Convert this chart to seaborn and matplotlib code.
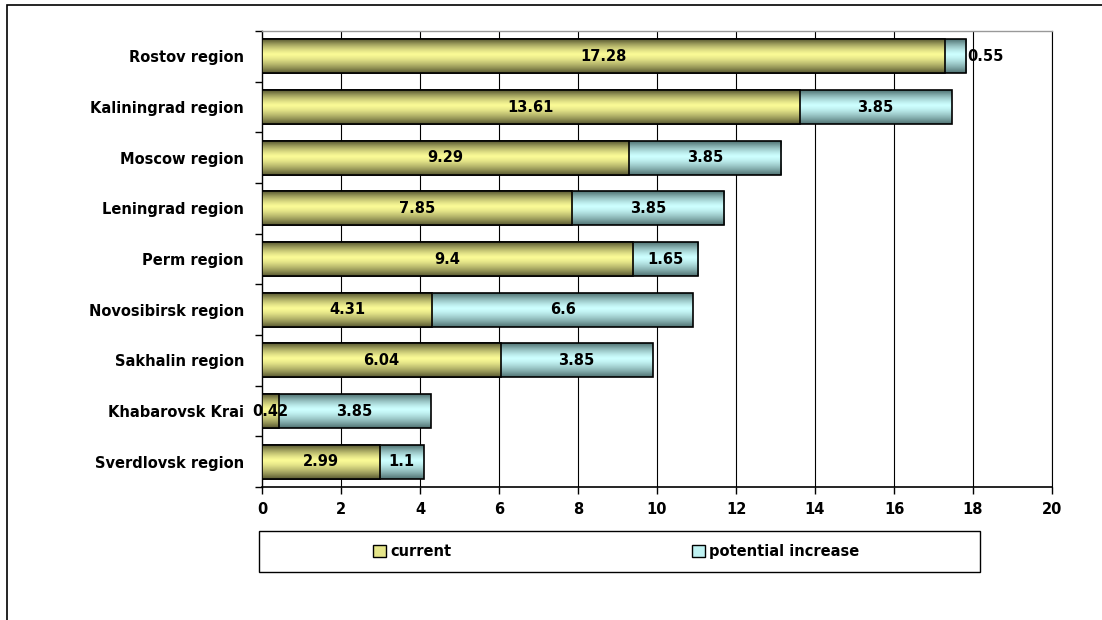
import numpy as np
import pandas as pd
import matplotlib
matplotlib.use("Agg")
import matplotlib.pyplot as plt
import seaborn as sns
from matplotlib.patches import Patch, Rectangle
from matplotlib.ticker import FixedLocator

regions = ["Rostov region", "Kaliningrad region", "Moscow region", "Leningrad region",
           "Perm region", "Novosibirsk region", "Sakhalin region", "Khabarovsk Krai",
           "Sverdlovsk region"]
current = [17.28, 13.61, 9.29, 7.85, 9.4, 4.31, 6.04, 0.42, 2.99]
potential = [0.55, 3.85, 3.85, 3.85, 1.65, 6.6, 3.85, 3.85, 1.1]
x_ticks = [0, 2, 4, 6, 8, 10, 12, 14, 16, 18, 20]
series_names = ["current", "potential increase"]

df = pd.DataFrame({"region": regions, "current": current, "potential": potential})
df["total"] = df["current"] + df["potential"]

sns.set_theme(style="white")
plt.rcParams["font.family"] = ["DejaVu Sans"]
plt.rcParams["font.weight"] = "bold"
plt.rcParams["text.color"] = "black"

W, H = 1102, 620
fig = plt.figure(figsize=(W / 100, H / 100), dpi=100)
ax = fig.add_axes([262 / W, 1 - 487 / H, (1052 - 262) / W, (487 - 31) / H])

yellow_light = np.array([250, 250, 150]) / 255
yellow_dark = np.array([90, 90, 50]) / 255
cyan_light = np.array([205, 255, 255]) / 255
cyan_dark = np.array([80, 115, 115]) / 255

sns.barplot(data=df, y="region", x="total", color="#CCFFFF", orient="h",
            width=0.67, ax=ax, edgecolor="black", linewidth=1.2, zorder=3)
n_total = len(ax.patches)
sns.barplot(data=df, y="region", x="current", color="#FAFA96", orient="h",
            width=0.67, ax=ax, edgecolor="black", linewidth=1.2, zorder=3)

ax.set_xlim(0, 20)
ax.set_ylim(len(regions) - 0.5, -0.5)

t = np.linspace(0, 1, 64)
d = np.where(t < 0.45, (0.45 - t) / 0.45, (t - 0.45) / 0.55)
prof = 1 - d ** 1.4


def grad(light, dark):
    arr = dark[None, :] + (light - dark)[None, :] * prof[:, None]
    return arr[:, None, :]


for i, p in enumerate(list(ax.patches)):
    x0, y0 = p.get_x(), p.get_y()
    w, h = p.get_width(), p.get_height()
    img = grad(cyan_light, cyan_dark) if i < n_total else grad(yellow_light, yellow_dark)
    im = ax.imshow(img, extent=(x0, x0 + w, y0 + h, y0), aspect="auto",
                   zorder=2.5 + (0 if i < n_total else 0.6), interpolation="bilinear")
    im.set_clip_path(p)
    p.set_facecolor("none")
    p.set_zorder(2.6 if i < n_total else 3.2)

ax.set_xlim(0, 20)
ax.set_ylim(len(regions) - 0.5, -0.5)

# value labels
for i, (c, pv) in enumerate(zip(current, potential)):
    ax.text(c / 2, i, f"{c:g}", ha="center", va="center", fontsize=10.5,
            fontweight="bold", color="black", zorder=5)
    if pv < 1:
        ax.text(c + pv + 0.02, i, f"{pv:g}", ha="left", va="center", fontsize=10.5,
                fontweight="bold", color="black", zorder=5)
    else:
        ax.text(c + pv / 2, i, f"{pv:g}", ha="center", va="center", fontsize=10.5,
                fontweight="bold", color="black", zorder=5)

# grid & axes styling
ax.set_xticks(x_ticks)
ax.set_xticklabels([str(v) for v in x_ticks], fontsize=10.5, fontweight="bold")
for v in x_ticks[1:]:
    ax.axvline(v, color="black", linewidth=0.8, zorder=1)
ax.set_xlabel("")
ax.set_ylabel("")
ax.tick_params(axis="x", direction="out", length=5, width=1, color="black",
               bottom=True, pad=6, labelcolor="black")
ax.tick_params(axis="y", which="major", length=0, pad=13, labelsize=10.5, labelcolor="black")
ax.yaxis.set_minor_locator(FixedLocator(np.arange(-0.5, len(regions), 1.0)))
ax.tick_params(axis="y", which="minor", direction="out", length=5, width=1,
               color="black", left=True)
for lbl in ax.get_yticklabels():
    lbl.set_fontweight("bold")

ax.spines["left"].set_color("black")
ax.spines["left"].set_linewidth(1)
ax.spines["bottom"].set_color("black")
ax.spines["bottom"].set_linewidth(1.2)
ax.spines["top"].set_color("#999999")
ax.spines["top"].set_linewidth(1)
ax.spines["right"].set_color("black")
ax.spines["right"].set_linewidth(0.8)

# legend
fig.patches.append(Rectangle((259 / W, 1 - 572 / H), (980 - 259) / W, 41 / H,
                             transform=fig.transFigure, fill=False,
                             edgecolor="black", linewidth=1))
handles = [Patch(facecolor="#E6E68A", edgecolor="black", label=series_names[0]),
           Patch(facecolor="#BFF2F2", edgecolor="black", label=series_names[1])]
leg = fig.legend(handles=handles, loc="center", bbox_to_anchor=(616 / W, 1 - 551.5 / H),
                 ncol=2, frameon=False, handlelength=0.9,
                 handleheight=0.9, handletextpad=0.3, columnspacing=16.5,
                 labelcolor="black", prop={"weight": "bold", "size": 10.5})

# outer frame
fig.patches.append(Rectangle((7 / W, -0.2), 2.0, 1.2 - 5 / H,
                             transform=fig.transFigure, fill=False,
                             edgecolor="black", linewidth=1.2))

fig.savefig("out.png", dpi=100)
